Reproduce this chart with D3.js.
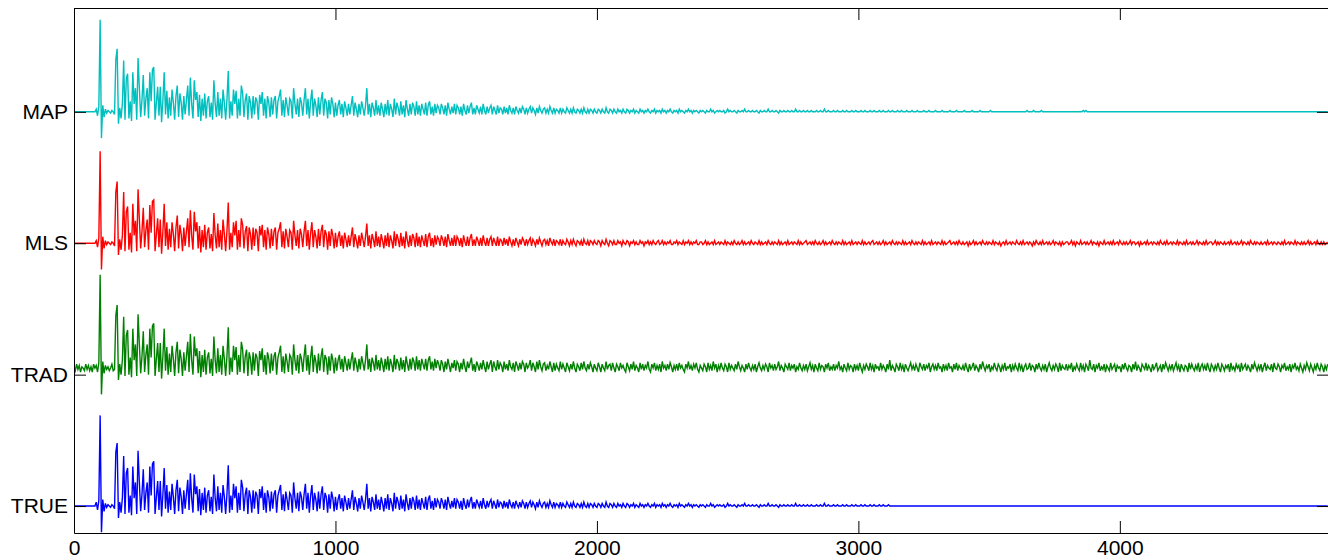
<!DOCTYPE html>
<html>
<head>
<meta charset="utf-8">
<script src="https://cdn.jsdelivr.net/npm/d3@7"></script>
<style>
  body { margin: 0; background: #fff; }
  svg { display: block; }
</style>
</head>
<body>
<svg id="chart" width="1328" height="560"></svg>
<script>
// one value every 5 samples, in hundredths of the trace spacing
var sampleStep = 5;
var valueUnit = 0.01;
var xMax = 4800;
var xTicks = [0, 1000, 2000, 3000, 4000];
var traceNames = ['MAP', 'MLS', 'TRAD', 'TRUE'];
var traceOffsets = [3, 2, 1, 0];

var mapVals = [
  0,0,0,0,0,0,0,0,0,0, 0,0,0,0,0,0,0,2,-3,4, 70,-20,5,-4,2,-1,1,0,-1,1, 0,-2,40,48,-9,3,-5,6,39,-6,
  25,29,-5,8,-7,30,6,18,-6,41, 18,-4,9,28,-3,10,18,-5,30,8, 32,34,-6,7,19,-3,19,-8,9,30, -2,16,-5,11,-3,17,7,-6,12,20,
  -4,14,7,-6,12,-2,9,20,-3,26, 6,-5,24,9,15,-4,13,-7,10,-3, 14,-5,8,12,-4,7,-6,24,6,-4, 15,-3,10,-5,17,7,-6,9,31,-5,
  8,-3,17,6,16,-5,10,-3,20,14, -4,9,14,-6,12,7,-5,12,-2,11, 8,-6,13,6,15,-3,10,-5,12,7, -4,11,-2,9,12,-5,8,12,17,-3,
  9,-4,11,5,-3,10,8,-5,18,6, -2,10,-4,11,7,-3,9,18,-2,10, -5,8,17,-3,10,5,-4,11,-2,9, 15,-3,10,7,-5,9,-2,11,6,-4,
  7,-3,5,9,-2,6,-4,8,3,-3, 6,-2,5,12,-3,7,2,-4,6,-2, 8,3,-3,5,18,-2,6,-4,7,3, -3,9,-2,5,-3,7,2,-4,6,-2,
  9,-3,6,2,-4,10,-2,7,3,-3, 8,-2,5,-4,9,2,-3,6,-2,7, 4,-3,8,-2,5,-3,6,2,-2,7, -3,5,8,-2,4,-3,6,-1,5,3,
  -2,6,3,-2,5,-3,7,2,-2,4, -1,6,-2,5,3,-2,4,-3,6,1, -2,5,-1,4,7,-2,3,-2,5,2, -1,4,-2,6,1,-2,4,-1,3,5,
  -2,4,1,-2,5,-1,3,2,-2,4, -1,3,-2,5,1,-1,3,-2,4,1, -1,3,-1,4,2,-2,3,-1,2,4, -1,3,1,-2,3,-1,4,1,-1,2,
  3,-1,2,-1,4,1,-1,3,-1,2, 1,-1,3,-1,2,0,-1,3,1,-1, 2,-1,3,0,-1,2,1,-1,2,-1, 3,0,-1,2,-1,2,1,-1,2,0,
  -1,2,1,-1,2,0,-1,3,0,-1, 2,1,-1,2,0,-1,2,0,1,-1, 2,0,-1,2,1,-1,1,0,2,-1, 1,0,-1,2,0,1,-1,1,0,2,
  0,-1,1,0,2,-1,1,0,1,-1, 2,0,1,-1,1,0,2,0,-1,1, 0,1,-1,2,0,1,0,-1,1,0, 2,0,1,-1,1,0,1,0,-1,1,
  0,1,0,-1,1,0,0,2,0,1, -1,0,1,0,1,0,0,1,-1,0, 2,0,1,0,0,1,0,-1,1,0, 0,1,0,2,0,0,1,0,0,1,
  0,0,1,0,-1,1,0,0,1,0, 0,2,0,0,1,0,0,1,0,-1, 1,0,0,1,0,0,1,0,0,1, 0,0,2,0,0,1,0,0,1,0,
  0,1,0,0,1,0,0,0,1,0, 0,1,0,0,2,0,0,1,0,0, 0,1,0,0,1,0,0,0,1,0, 0,1,0,0,0,1,0,0,1,0,
  0,0,1,0,0,1,0,0,0,1, 0,0,1,0,0,0,1,0,0,1, 0,0,0,1,0,0,1,0,0,0, 1,0,0,1,0,0,0,1,0,0,
  0,1,0,0,0,1,0,0,0,0, 1,0,0,0,1,0,0,0,0,1, 0,0,0,0,1,0,0,0,0,0, 1,0,0,0,0,1,0,0,0,0,
  0,1,0,0,0,0,0,1,0,0, 0,0,0,1,0,0,0,0,0,0, 0,1,0,0,0,0,0,0,0,0, 0,0,0,0,0,0,0,0,0,0,
  0,0,0,0,0,0,0,0,0,1, 0,0,0,0,1,0,0,0,0,0, 1,0,0,0,0,0,0,0,0,0, 0,0,0,0,0,0,0,0,0,0,
  0,0,0,0,0,0,0,0,0,0, 0,0,1,0,1,0,0,0,0,0, 0,0,0,0,0,0,0,0,0,0, 0,0,0,0,0,0,0,0,0,0,
  0,0,0,0,0,0,0,0,0,0, 0,0,0,0,0,0,0,0,0,0, 0,0,0,0,0,0,0,0,0,0, 0,0,0,0,0,0,0,0,0,0,
  0,0,0,0,0,0,0,0,0,0, 0,0,0,0,0,0,0,0,0,0, 0,0,0,0,0,0,0,0,0,0, 0,0,0,0,0,0,0,0,0,0,
  0,0,0,0,0,0,0,0,0,0, 0,0,0,0,0,0,0,0,0,0, 0,0,0,0,0,0,0,0,0,0, 0,0,0,0,0,0,0,0,0,0,
  0,0,0,0,0,0,0,0,0,0, 0,0,0,0,0,0,0,0,0,0, 0,0,0,0,0,0,0,0,0,0, 0,0,0,0,0,0,0,0,0,0
];

var mlsVals = [
  0,0,0,0,0,0,0,0,0,0, 0,0,0,0,0,0,0,2,-3,4, 70,-20,5,-4,2,-1,1,0,-1,1, 0,-2,39,47,-9,3,-5,6,39,-6,
  24,28,-5,8,-7,30,6,17,-6,41, 18,-4,9,27,-3,10,18,-5,29,8, 32,33,-6,7,19,-3,18,-8,9,30, -2,16,-5,11,-3,16,7,-6,12,21,
  -4,14,7,-6,12,-2,9,19,-3,25, 6,-5,24,9,16,-4,13,-7,10,-3, 14,-5,8,12,-4,7,-6,23,6,-4, 15,-3,10,-5,18,7,-6,9,31,-5,
  8,-3,16,6,17,-5,10,-3,19,14, -4,9,13,-6,12,7,-5,12,-2,11, 8,-6,13,6,14,-3,10,-5,12,7, -4,11,-2,9,12,-5,8,11,16,-3,
  9,-4,11,5,-3,10,8,-5,17,6, -2,10,-4,11,7,-3,9,17,-2,10, -5,8,16,-3,10,5,-4,11,-2,9, 14,-3,10,7,-5,9,-2,11,6,-4,
  8,-3,5,9,-2,6,-4,8,3,-3, 6,-2,5,12,-3,7,2,-4,6,-2, 8,3,-3,5,15,-2,6,-4,7,3, -3,9,-2,5,-3,7,2,-4,6,-2,
  8,-3,6,2,-4,9,-2,7,3,-3, 8,-2,5,-4,9,2,-3,6,-2,7, 4,-3,8,-2,5,-3,6,2,-2,7, -3,5,8,-2,4,-3,6,-1,5,3,
  -2,6,3,-2,5,-3,7,2,-2,4, -2,6,-2,5,3,-2,4,-3,6,1, -2,5,-2,4,7,-2,3,-2,5,2, -2,4,-2,6,1,-2,4,-2,3,5,
  -2,4,1,-2,5,-2,3,2,-2,4, -1,3,-2,5,1,-2,3,-2,4,1, -2,3,-1,4,2,-2,3,-1,2,4, -2,3,1,-2,3,-1,4,1,-2,2,
  3,-1,2,-2,4,1,-1,3,-2,2, 1,-1,3,-2,2,0,-1,3,1,-2, 2,-1,3,0,-2,2,1,-1,2,-2, 3,0,-1,2,-2,2,1,-1,2,0,
  -1,2,1,-2,2,0,-1,3,0,-2, 2,1,-1,2,-1,-1,2,0,1,-2, 2,0,-1,2,1,-2,1,0,2,-1, 1,-1,-1,2,0,1,-2,1,0,2,
  -1,1,-1,2,0,-1,1,2,-1,0, 2,-1,1,-1,1,0,2,-1,-1,1, 0,2,-1,1,0,-1,2,-1,1,0, 2,-1,1,-1,1,0,2,-1,-1,1,
  1,-1,0,2,-1,1,-1,0,1,-1, 2,-1,0,1,-1,1,0,-1,2,-1, 1,0,-1,1,-1,2,0,-1,1,-1, 0,2,-1,1,-1,0,1,-1,2,0,
  -1,1,0,-1,2,-1,1,-1,0,1, -1,2,0,-1,1,-1,1,0,-1,2, -1,1,-1,0,1,-1,2,-1,0,1, -1,1,0,-1,2,-1,1,-1,0,1,
  2,-1,0,1,-1,1,-1,2,0,-1, 1,-1,0,2,-1,1,-1,0,1,-1, 2,0,-1,1,-1,1,0,-1,2,-1, 1,-1,0,1,-1,2,-1,0,1,-1,
  1,0,-1,2,-1,1,-1,0,1,-1, 1,2,-1,0,1,-1,1,-1,0,2, -1,1,-1,0,1,-1,2,0,-1,1, -1,1,0,-1,2,-1,1,-1,0,1,
  -1,2,0,-1,1,-1,1,0,-1,2, -1,1,-1,0,1,-1,2,-1,0,1, -1,1,0,-1,2,-1,1,-1,0,1, 2,-1,0,1,-1,1,-1,2,0,-1,
  1,-1,0,1,-2,1,-1,0,2,-1, 1,-1,0,1,-1,2,0,-1,1,-1, 1,0,-1,2,-1,1,0,-1,1,-2, 0,1,-1,2,-1,0,1,-1,1,0,
  -1,2,0,-1,1,-1,2,-1,0,1, -1,1,0,-2,1,-1,2,0,-1,1, -1,2,-1,0,1,-1,1,-1,0,2, -1,1,0,-1,1,-2,1,-1,0,1,
  1,-1,0,2,-1,1,-2,1,0,-1, 2,-1,0,1,-1,1,-1,0,2,-1, 1,0,-1,1,-2,1,0,-1,2,-1, 0,1,-1,1,-1,2,-1,0,1,-1,
  2,0,-1,1,-1,1,-1,0,2,-1, 1,1,-1,0,1,-2,1,-1,0,1, -1,2,-1,0,1,-1,1,0,-1,1, -1,2,0,-1,1,-1,2,-1,0,1,
  -1,1,0,-1,2,-1,1,0,-1,1, -1,2,-1,0,1,-1,1,-1,0,2, -1,1,0,-1,1,-1,2,-1,0,1, 1,-1,0,2,-1,1,-1,1,0,-1,
  1,-1,0,1,-1,2,-1,0,1,-1, 1,-1,0,2,-1,1,0,-1,1,-1, 2,0,-1,1,-1,1,0,-1,1,-1, 0,1,-1,2,-1,0,1,-1,1,0,
  -1,1,0,-1,1,-1,2,-1,0,1, -1,1,0,-1,2,-1,1,0,-1,1, -1,1,-1,0,2,-1,1,-1,0,1, -1,2,0,-1,1,-1,1,-1,0,1
];

var tradVals = [
  6,3,8,4,7,2,6,5,3,8, 4,7,3,6,2,8,5,7,2,9, 76,-15,10,1,7,4,6,3,5,8, 3,4,45,53,-4,8,0,11,44,-1,
  30,34,0,13,-2,35,11,23,-1,46, 23,1,14,33,2,15,23,0,35,13, 37,39,-1,12,24,2,24,-3,14,35, 3,21,0,16,2,22,12,-1,17,25,
  1,19,12,-1,17,3,14,25,2,31, 11,0,29,14,20,1,18,-2,15,2, 19,0,13,17,1,12,-1,29,11,1, 20,2,15,0,22,12,-1,14,36,0,
  13,2,22,11,21,0,15,2,25,19, 1,14,19,-1,17,12,0,17,3,16, 13,-1,18,11,20,2,15,0,17,12, 1,16,3,14,17,0,13,17,22,2,
  14,1,16,10,2,15,13,0,23,11, 3,15,1,16,12,2,14,23,3,15, 0,13,22,2,15,10,1,16,3,14, 20,2,15,12,0,14,3,16,11,1,
  13,3,11,15,4,12,2,14,9,3, 12,4,11,17,3,13,8,2,12,4, 14,9,3,11,23,4,12,2,13,9, 3,15,4,11,3,13,8,2,12,4,
  14,3,12,8,2,15,4,12,9,3, 13,4,11,2,14,8,3,12,4,13, 10,3,14,4,11,3,12,8,4,12, 3,11,14,4,10,3,12,5,11,8,
  3,11,8,2,10,4,12,7,2,9, 5,11,3,10,8,2,9,4,12,6, 2,10,5,9,13,3,8,2,10,7, 3,9,4,11,6,2,10,4,8,11,
  2,10,6,3,11,4,9,7,2,10, 4,8,3,11,6,4,9,2,10,7, 3,9,4,10,8,2,9,5,7,11, 3,9,6,2,10,4,11,6,3,8,
  9,3,7,4,10,6,2,9,3,8, 5,3,10,4,8,5,2,9,6,3, 8,4,10,5,2,8,6,3,9,4, 10,5,3,8,4,9,6,2,8,5,
  3,9,6,2,8,5,3,10,4,7, 8,3,9,5,2,8,6,3,9,5, 7,4,2,9,6,3,8,4,10,3, 7,5,2,9,4,8,3,7,5,10,
  4,2,8,5,9,3,7,4,8,2, 10,5,7,3,8,4,9,6,2,7, 4,8,3,9,5,7,4,2,8,5, 10,4,7,3,8,5,9,4,2,7,
  5,3,8,6,2,9,4,7,3,10, 5,8,2,7,4,9,5,3,8,6, 2,9,4,7,5,3,8,4,10,6, 3,7,5,2,8,4,9,5,3,7,
  4,8,2,6,9,5,3,7,4,8, 6,2,9,5,7,3,8,4,6,10, 3,7,5,2,8,6,4,9,3,7, 5,8,2,6,4,9,5,3,7,4,
  8,3,6,9,4,7,2,8,5,3, 9,4,7,6,2,8,5,9,3,6, 4,8,3,7,5,10,4,6,2,8, 5,3,9,4,7,6,2,8,4,7,
  3,9,5,2,7,4,8,6,3,9, 4,7,2,8,5,6,3,9,4,7, 5,2,8,4,11,3,7,5,2,8, 6,3,9,4,7,2,8,5,3,6,
  9,4,7,3,8,5,2,9,6,4, 8,3,7,5,9,2,6,8,4,7, 3,9,5,6,2,8,4,7,3,9, 5,6,2,8,4,9,3,7,5,4,
  7,3,9,5,2,8,4,6,9,3, 7,5,2,8,4,10,6,3,7,5, 8,2,6,4,9,5,3,8,6,2, 7,4,9,3,6,5,8,2,7,4,
  8,5,3,9,4,7,2,6,8,4, 5,9,3,7,6,2,8,4,9,5, 3,7,4,8,2,6,9,5,3,7, 4,8,6,2,9,3,7,5,4,8,
  3,7,5,9,2,6,4,8,5,3, 9,4,7,2,8,6,3,11,5,4, 8,2,7,5,9,3,6,4,8,2, 7,5,3,9,4,6,8,2,7,5,
  6,2,8,4,9,5,3,7,6,2, 8,4,10,3,7,5,2,8,6,4, 9,3,7,5,2,8,4,6,9,3, 5,7,2,8,4,9,6,3,7,4,
  8,3,6,9,4,7,2,8,5,3, 7,6,2,9,4,8,5,3,7,4, 9,2,6,8,4,7,3,9,5,2, 8,6,3,7,4,9,5,2,8,6,
  3,7,5,8,2,9,4,6,3,8, 5,7,2,9,4,6,8,3,7,5, 2,8,4,9,6,3,7,4,8,2, 6,9,3,7,5,4,8,2,9,5,
  4,8,6,2,7,5,9,3,6,4, 8,2,7,5,9,4,6,3,8,5, 2,7,4,9,6,3,8,5,2,7, 4,9,5,3,8,6,2,7,4,8
];

var trueVals = [
  0,0,0,0,0,0,0,0,0,0, 0,0,0,0,0,0,0,3,-3,4, 69,-20,5,-4,2,-1,1,0,-1,1, 0,-2,41,48,-9,3,-5,6,38,-6,
  25,29,-5,8,-7,30,6,18,-6,42, 18,-4,9,28,-3,10,18,-5,30,8, 32,34,-6,7,19,-3,19,-8,9,29, -2,16,-5,11,-3,17,7,-6,12,20,
  -4,14,7,-6,12,-2,9,20,-3,25, 6,-5,24,9,15,-4,13,-7,10,-3, 14,-5,8,12,-4,7,-6,24,6,-4, 15,-3,10,-5,16,7,-6,9,31,-5,
  8,-3,17,6,15,-5,10,-3,20,14, -4,9,14,-6,12,7,-5,12,-2,11, 8,-6,13,6,15,-3,10,-5,12,7, -4,11,-2,9,12,-5,8,12,16,-3,
  9,-4,11,5,-3,10,8,-5,18,6, -2,10,-4,11,7,-3,9,17,-2,10, -5,8,16,-3,10,5,-4,11,-2,9, 15,-3,10,7,-5,9,-2,11,6,-4,
  7,-3,5,9,-2,6,-4,8,3,-3, 6,-2,5,12,-3,7,2,-4,6,-2, 8,3,-3,5,17,-2,6,-4,7,3, -3,9,-2,5,-3,7,2,-4,6,-2,
  9,-3,6,2,-4,10,-2,7,3,-3, 8,-2,5,-4,9,2,-3,6,-2,7, 4,-3,8,-2,5,-3,6,2,-2,7, -3,5,8,-2,4,-3,6,-1,5,3,
  -2,6,3,-2,5,-3,7,2,-2,4, -1,6,-2,5,3,-2,4,-3,6,1, -2,5,-1,4,7,-2,3,-2,5,2, -1,4,-2,6,1,-2,4,-1,3,5,
  -2,4,1,-2,5,-1,3,2,-2,4, -1,3,-2,5,1,-1,3,-2,4,1, -1,3,-1,4,2,-2,3,-1,2,4, -1,3,1,-2,3,-1,4,1,-1,2,
  3,-1,2,-1,4,1,-1,3,-1,2, 1,-1,3,-1,2,0,-1,3,1,-1, 2,-1,3,0,-1,2,1,-1,2,-1, 3,0,-1,2,-1,2,1,-1,2,0,
  -1,2,1,-1,2,0,-1,3,0,-1, 2,1,-1,2,0,-1,2,0,1,-1, 2,0,-1,2,1,-1,1,0,2,-1, 1,0,-1,2,0,1,-1,1,0,2,
  0,-1,1,0,2,-1,1,0,1,-1, 2,0,1,-1,1,0,2,0,-1,1, 0,1,-1,2,0,1,0,-1,1,0, 2,0,1,-1,1,0,1,0,-1,1,
  0,1,0,-1,1,0,0,2,0,1, -1,0,1,0,1,0,0,1,-1,0, 2,0,1,0,0,1,0,-1,1,0, 0,1,0,2,0,0,1,0,0,1,
  0,0,1,0,-1,1,0,0,1,0, 0,2,0,0,1,0,0,1,0,-1, 1,0,0,1,0,0,1,0,0,1, 0,0,2,0,0,1,0,0,1,0,
  0,1,0,0,1,0,0,0,1,0, 0,1,0,0,2,0,0,1,0,0, 0,1,0,0,1,0,0,0,1,0, 0,1,0,0,0,1,0,0,1,0,
  0,0,1,0,0,1,0,0,0,1, 0,0,1,0,0,0,1,0,0,1, 0,0,0,1,0,0,0,0,0,0, 0,0,0,0,0,0,0,0,0,0,
  0,0,0,0,0,0,0,0,0,0, 0,0,0,0,0,0,0,0,0,0, 0,0,0,0,0,0,0,0,0,0, 0,0,0,0,0,0,0,0,0,0,
  0,0,0,0,0,0,0,0,0,0, 0,0,0,0,0,0,0,0,0,0, 0,0,0,0,0,0,0,0,0,0, 0,0,0,0,0,0,0,0,0,0,
  0,0,0,0,0,0,0,0,0,0, 0,0,0,0,0,0,0,0,0,0, 0,0,0,0,0,0,0,0,0,0, 0,0,0,0,0,0,0,0,0,0,
  0,0,0,0,0,0,0,0,0,0, 0,0,0,0,0,0,0,0,0,0, 0,0,0,0,0,0,0,0,0,0, 0,0,0,0,0,0,0,0,0,0,
  0,0,0,0,0,0,0,0,0,0, 0,0,0,0,0,0,0,0,0,0, 0,0,0,0,0,0,0,0,0,0, 0,0,0,0,0,0,0,0,0,0,
  0,0,0,0,0,0,0,0,0,0, 0,0,0,0,0,0,0,0,0,0, 0,0,0,0,0,0,0,0,0,0, 0,0,0,0,0,0,0,0,0,0,
  0,0,0,0,0,0,0,0,0,0, 0,0,0,0,0,0,0,0,0,0, 0,0,0,0,0,0,0,0,0,0, 0,0,0,0,0,0,0,0,0,0,
  0,0,0,0,0,0,0,0,0,0, 0,0,0,0,0,0,0,0,0,0, 0,0,0,0,0,0,0,0,0,0, 0,0,0,0,0,0,0,0,0,0
];

var traceValues = [mapVals, mlsVals, tradVals, trueVals];
var traceColors = ['#00bfbf', '#ff0000', '#008000', '#0000ff'];

var fontFamily = '"Liberation Sans", Arial, Helvetica, sans-serif';
var plot = { left: 74, right: 1329, top: 8, bottom: 533 };
var tickLen = 12;

var svg = d3.select('#chart');

var x = d3.scaleLinear()
  .domain([0, xMax])
  .range([plot.left, plot.right]);

var y = d3.scaleLinear()
  .domain([-0.205, 3.79])
  .range([plot.bottom, plot.top]);

svg.append('defs').append('clipPath')
  .attr('id', 'plotClip')
  .append('rect')
  .attr('x', plot.left)
  .attr('y', plot.top)
  .attr('width', plot.right - plot.left)
  .attr('height', plot.bottom - plot.top);

var traces = traceNames.map(function(name, k) {
  return { name: name, offset: traceOffsets[k], values: traceValues[k], color: traceColors[k] };
});

var lines = svg.append('g').attr('clip-path', 'url(#plotClip)');

traces.slice().reverse().forEach(function(t) {
  var line = d3.line()
    .x(function(d, i) { return x(i * sampleStep); })
    .y(function(d) { return y(d * valueUnit + t.offset); });

  lines.append('path')
    .datum(t.values)
    .attr('fill', 'none')
    .attr('stroke', t.color)
    .attr('stroke-width', 1.4)
    .attr('d', line);
});

// MATLAB style box: ticks point inward on all four sides
function styleAxis(g) {
  g.attr('font-family', fontFamily).attr('font-size', 21);
  g.selectAll('.domain').attr('stroke', '#000');
  g.selectAll('.tick line').attr('stroke', '#000');
  g.selectAll('.tick text').attr('fill', '#000');
}

svg.append('g')
  .attr('transform', 'translate(0,' + plot.bottom + ')')
  .call(d3.axisBottom(x).tickValues(xTicks).tickFormat(d3.format('d'))
    .tickSizeInner(-tickLen).tickSizeOuter(0).tickPadding(7.5))
  .call(styleAxis);

svg.append('g')
  .attr('transform', 'translate(0,' + plot.top + ')')
  .call(d3.axisTop(x).tickValues(xTicks).tickFormat('')
    .tickSizeInner(-tickLen).tickSizeOuter(0))
  .call(styleAxis);

svg.append('g')
  .attr('transform', 'translate(' + plot.left + ',0)')
  .call(d3.axisLeft(y).tickValues(traceOffsets)
    .tickFormat(function(d) { return traceNames[traceOffsets.indexOf(d)]; })
    .tickSizeInner(-tickLen).tickSizeOuter(0).tickPadding(6))
  .call(styleAxis);

svg.append('g')
  .attr('transform', 'translate(' + plot.right + ',0)')
  .call(d3.axisRight(y).tickValues(traceOffsets).tickFormat('')
    .tickSizeInner(-tickLen).tickSizeOuter(0))
  .call(styleAxis);
</script>
</body>
</html>
